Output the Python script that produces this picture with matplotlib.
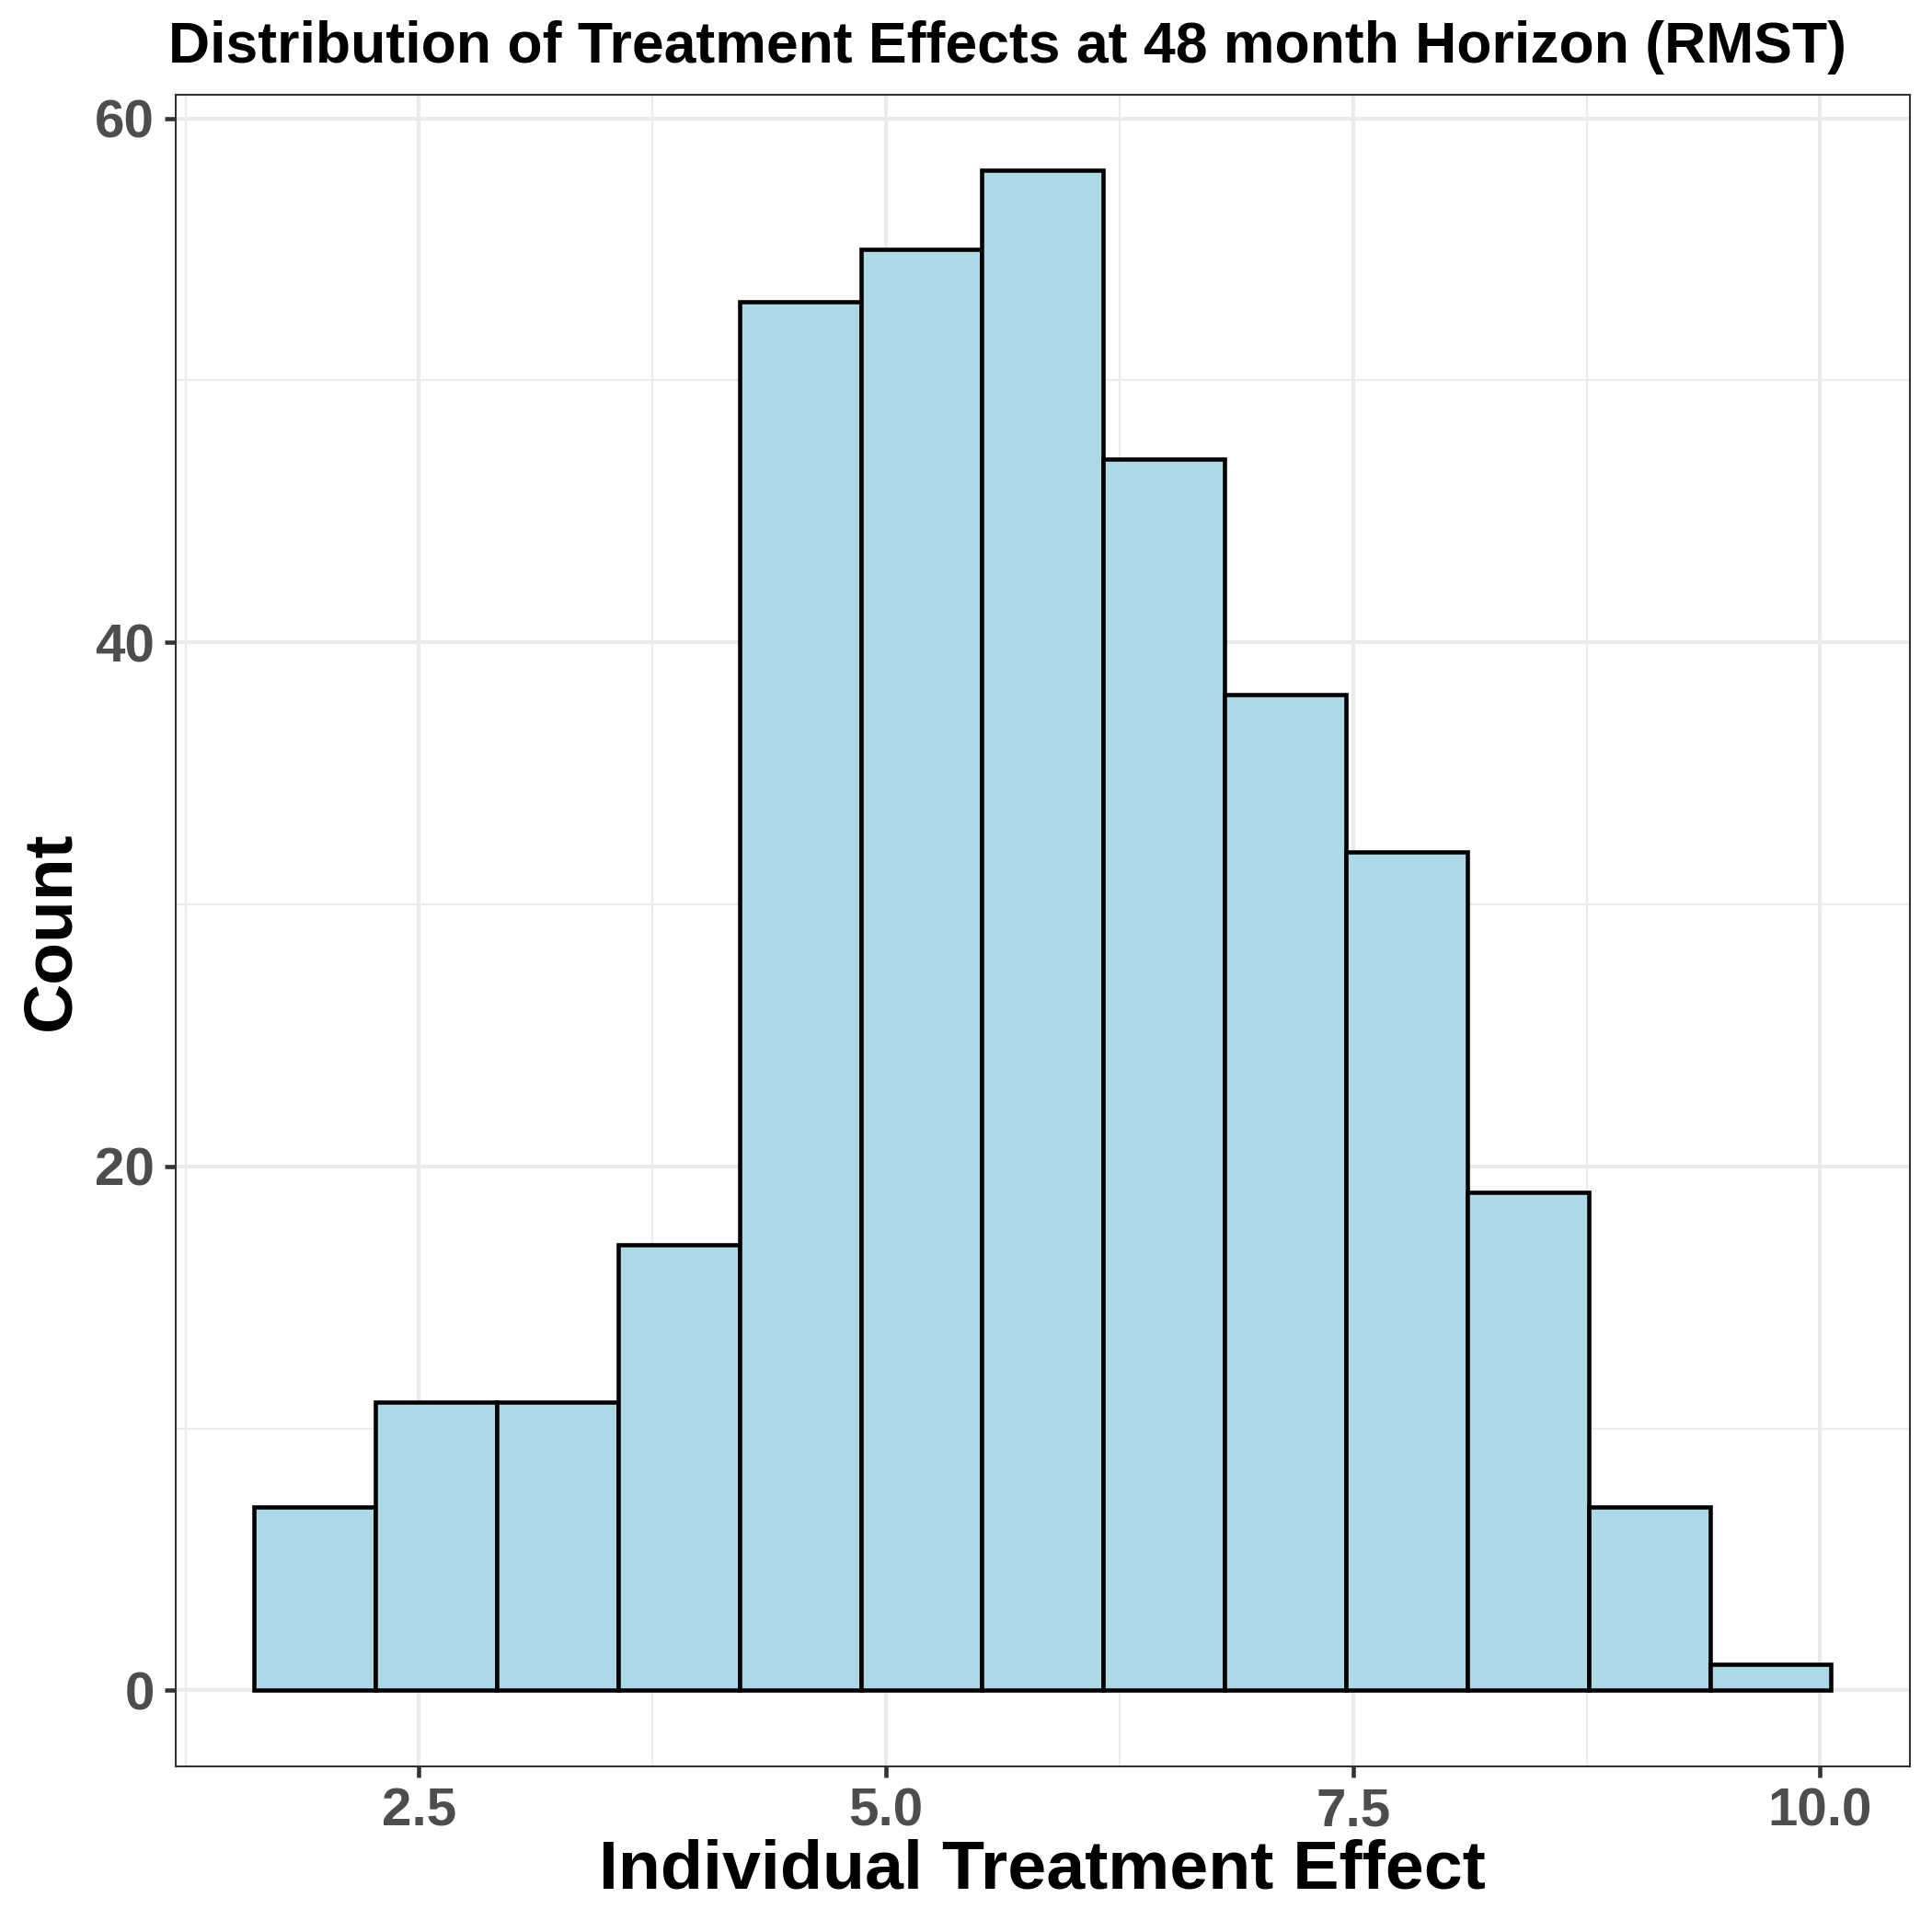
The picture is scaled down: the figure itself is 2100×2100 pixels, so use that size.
import numpy as np
import matplotlib
matplotlib.use("Agg")
import matplotlib.pyplot as plt
from matplotlib.ticker import MultipleLocator

plt.rcParams['font.family'] = ['Liberation Sans', 'DejaVu Sans']

# histogram of individual treatment effects (13 bins)
bin_start = 1.618
bin_end = 10.059
counts = [7, 11, 11, 17, 53, 55, 58, 47, 38, 32, 19, 7, 1]
edges = np.linspace(bin_start, bin_end, len(counts) + 1)

x_ticks = [2.5, 5.0, 7.5, 10.0]
x_tick_labels = ['2.5', '5.0', '7.5', '10.0']
y_ticks = [0, 20, 40, 60]

fig = plt.figure(figsize=(7, 7), dpi=300)
ax = fig.add_axes([0.0908, 0.0857, 0.8978, 0.8653])

ax.bar(edges[:-1], counts, width=np.diff(edges), align='edge',
       color='#ADD8E6', edgecolor='black', linewidth=1.1, zorder=3)

# ggplot-like expansion
rng = bin_end - bin_start
ax.set_xlim(bin_start - 0.05 * rng, bin_end + 0.05 * rng)
ax.set_ylim(-0.05 * max(counts), max(counts) * 1.05)

ax.set_xticks(x_ticks)
ax.set_xticklabels(x_tick_labels)
ax.set_yticks(y_ticks)
ax.xaxis.set_minor_locator(MultipleLocator(1.25))
ax.yaxis.set_minor_locator(MultipleLocator(10))

ax.grid(which='major', color='#EBEBEB', linewidth=1.0, zorder=0)
ax.grid(which='minor', color='#EBEBEB', linewidth=0.55, zorder=0)
ax.set_axisbelow(True)

for s in ax.spines.values():
    s.set_color('#333333')
    s.set_linewidth(0.5)

ax.tick_params(which='major', length=2.9, width=1.1, color='#333333',
               labelsize=14, labelcolor='#4D4D4D', pad=2.5)
ax.tick_params(which='minor', length=0)
for lab in ax.get_xticklabels() + ax.get_yticklabels():
    lab.set_fontweight('bold')

ax.set_xlabel('Individual Treatment Effect', fontsize=18.1, fontweight='bold', labelpad=0.5)
ax.set_ylabel('Count', fontsize=18, fontweight='bold', labelpad=3)
ax.set_title('Distribution of Treatment Effects at 48 month Horizon (RMST)',
             fontsize=15, fontweight='bold', pad=8.4, loc='left', x=-0.004)

fig.savefig('out.png', dpi=300)
